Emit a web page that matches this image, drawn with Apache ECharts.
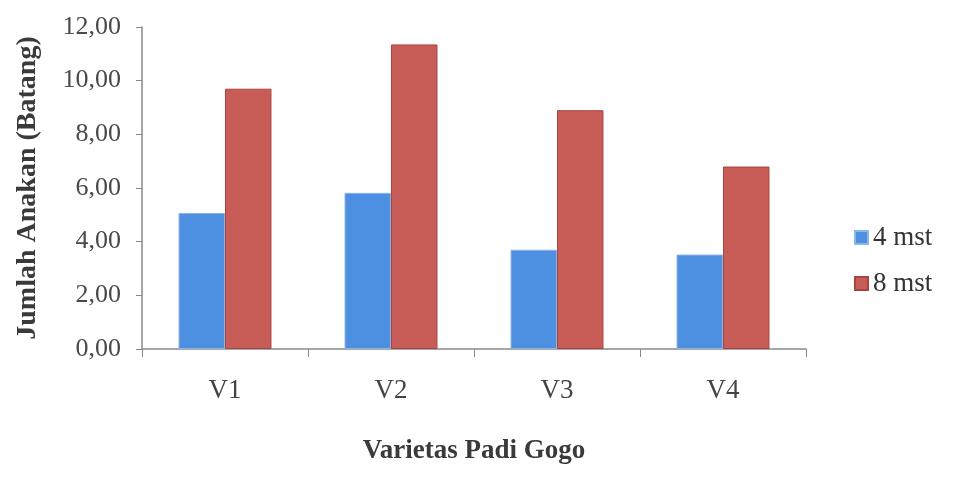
<!DOCTYPE html>
<html><head><meta charset="utf-8">
<script src="https://cdn.jsdelivr.net/npm/echarts@6/dist/echarts.min.js"></script>
<style>html,body{margin:0;padding:0;background:#fff}#c{width:970px;height:479px}</style>
</head><body><div id="c"></div>
<script>
var categories = ['V1', 'V2', 'V3', 'V4'];
var seriesNames = ['4 mst', '8 mst'];
var mst4 = [5.07, 5.82, 3.70, 3.52];
var mst8 = [9.70, 11.35, 8.90, 6.80];
var yTicks = [0, 2, 4, 6, 8, 10, 12];

var font = '"Liberation Serif", "Times New Roman", serif';
var chart = echarts.init(document.getElementById('c'));
chart.setOption({
  backgroundColor: '#fff',
  animation: false,
  grid: { left: 142, right: 164, top: 27, bottom: 130 },
  legend: {
    orient: 'vertical', left: 849, top: 219, itemGap: 19,
    itemWidth: 13, itemHeight: 13, icon: 'rect',
    textStyle: { fontFamily: font, fontSize: 27, color: '#333' },
    data: seriesNames
  },
  xAxis: {
    type: 'category', data: categories,
    name: 'Varietas Padi Gogo', nameLocation: 'middle', nameGap: 89,
    nameTextStyle: { fontFamily: font, fontSize: 27, fontWeight: 'bold', color: '#3a3a3a' },
    axisLine: { lineStyle: { color: '#8a8a8a', width: 1.5 } },
    axisTick: { show: true, length: 8, lineStyle: { color: '#8a8a8a' } },
    axisLabel: { fontFamily: font, fontSize: 27, color: '#444', margin: 28 }
  },
  yAxis: {
    type: 'value', min: yTicks[0], max: yTicks[yTicks.length - 1], interval: 2,
    name: 'Jumlah Anakan (Batang)', nameLocation: 'middle', nameGap: 100, nameRotate: 90,
    nameTextStyle: { fontFamily: font, fontSize: 28, fontWeight: 'bold', color: '#3a3a3a' },
    axisLine: { show: true, lineStyle: { color: '#8a8a8a', width: 1.5 } },
    axisTick: { show: true, length: 6, lineStyle: { color: '#8a8a8a' } },
    splitLine: { show: false },
    axisLabel: { fontFamily: font, fontSize: 26, color: '#4a4a4a', margin: 21,
      formatter: function (v) { return v.toFixed(2).replace('.', ','); } }
  },
  series: [
    { name: seriesNames[0], type: 'bar', data: mst4, barGap: '0%', barCategoryGap: '44%',
      itemStyle: { color: '#4d8fe0', borderColor: '#8fb4e6', borderWidth: 1 } },
    { name: seriesNames[1], type: 'bar', data: mst8,
      itemStyle: { color: '#c85d58', borderColor: '#a8443f', borderWidth: 1 } }
  ]
});
</script></body></html>
